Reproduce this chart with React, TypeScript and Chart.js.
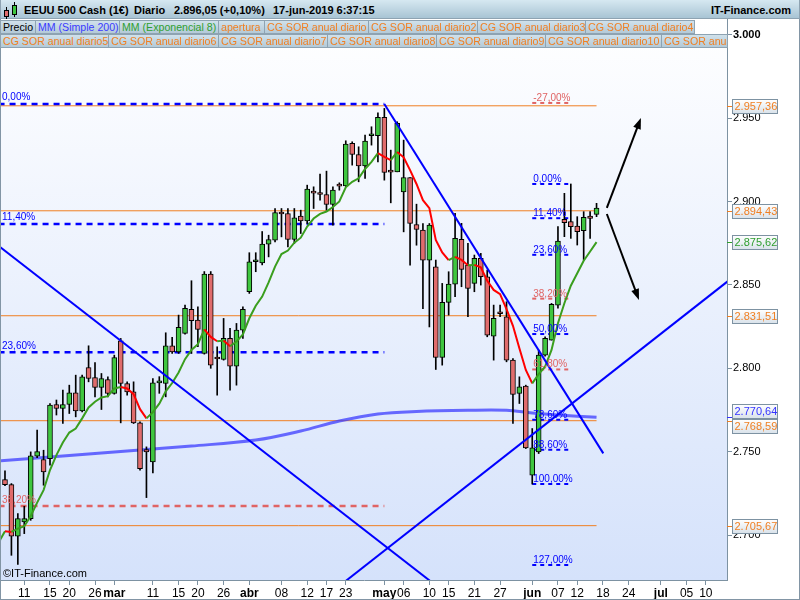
import React, { useEffect, useRef } from "react";
import { Chart, registerables } from "chart.js";

Chart.register(...registerables);
Chart.defaults.font.family = '"Liberation Sans", Arial, sans-serif';

// ---------------- data ----------------
// x axis: one slot per trading day, index 0 = 6-feb-2019 ... 92 = 17-jun-2019, then future slots
const tickIdx = [3, 7, 10, 14, 17, 23, 27, 30, 34, 38, 43, 47, 50, 53, 59, 62, 66, 69, 73, 77, 82, 86, 89, 93, 97, 102, 106, 109];
const tickLabels = ["11", "15", "20", "26", "mar", "11", "15", "20", "26", "abr", "08", "12", "17", "23", "may", "06", "10", "15", "21", "27", "jun", "07", "12", "18", "24", "jul", "05", "10"];
const monthNames = ["mar", "abr", "may", "jun", "jul"];

const yTicks = [2700, 2750, 2800, 2850, 2900, 2950, 3000];

const opens = [2733.3, 2730.3, 2699.3, 2707.9, 2709.9, 2747.3, 2745.3, 2745.9, 2778.3, 2775.9,
  2778.3, 2785.3, 2774.5, 2800.5, 2794.5, 2788.5, 2793.3, 2784.9, 2816.5, 2790.9,
  2785.9, 2767.3, 2751.3, 2743.9, 2791.3, 2790.9, 2813.5, 2809.9, 2820.9, 2835.3,
  2828.9, 2808.9, 2856.5, 2805.9, 2805.3, 2817.9, 2801.3, 2822.9, 2845.9, 2863.9,
  2863.2, 2874.4, 2876.8, 2892.8, 2892.8, 2877.2, 2891.2, 2888.4, 2905.2, 2905.4,
  2904.2, 2898.2, 2909.4, 2909.4, 2934.8, 2928.2, 2921.4, 2939.4, 2939.4, 2950.4,
  2917.8, 2917.8, 2905.8, 2914.4, 2886.2, 2882.9, 2864.9, 2860.9, 2806.5, 2839.5,
  2850.5, 2877.3, 2861.9, 2850.9, 2865.9, 2854.9, 2819.3, 2832.9, 2830.9, 2804.9,
  2784.9, 2789.3, 2735.9, 2749.9, 2807.9, 2816.9, 2837.9, 2889.3, 2887.9, 2885.3,
  2882.5, 2891.3, 2892.3];
const highs = [2738.5, 2730.9, 2712.9, 2717.3, 2749.9, 2762.9, 2750.9, 2778.9, 2781.0, 2787.0,
  2789.9, 2795.9, 2795.9, 2813.5, 2803.5, 2796.9, 2794.9, 2807.9, 2817.9, 2791.9,
  2791.9, 2767.9, 2752.9, 2793.9, 2795.0, 2821.3, 2818.5, 2831.9, 2837.9, 2852.5,
  2836.9, 2858.0, 2858.0, 2812.9, 2829.9, 2823.9, 2826.9, 2836.9, 2869.3, 2869.3,
  2882.0, 2879.8, 2895.8, 2895.8, 2895.8, 2895.8, 2894.8, 2909.8, 2908.8, 2916.4,
  2918.2, 2908.8, 2911.2, 2936.4, 2935.8, 2932.8, 2939.8, 2944.8, 2953.2, 2955.8,
  2930.8, 2947.8, 2936.8, 2914.4, 2898.4, 2886.8, 2886.8, 2864.9, 2850.9, 2857.9,
  2892.9, 2886.9, 2874.9, 2867.9, 2868.9, 2858.9, 2837.9, 2837.9, 2839.9, 2805.9,
  2794.9, 2789.9, 2763.9, 2810.9, 2818.9, 2838.9, 2884.9, 2904.9, 2910.5, 2890.9,
  2893.9, 2893.9, 2898.9];
const lows = [2729.7, 2687.9, 2682.5, 2700.9, 2708.9, 2746.5, 2729.9, 2742.0, 2772.0, 2767.0,
  2772.9, 2770.9, 2773.9, 2791.9, 2782.9, 2775.3, 2782.9, 2784.5, 2767.3, 2783.9,
  2766.9, 2738.9, 2722.5, 2737.3, 2785.0, 2782.9, 2808.9, 2808.9, 2820.5, 2808.9,
  2812.9, 2808.5, 2800.0, 2783.9, 2804.9, 2786.9, 2789.9, 2817.9, 2844.9, 2857.9,
  2862.0, 2866.8, 2875.8, 2878.8, 2872.8, 2874.8, 2880.8, 2886.8, 2895.8, 2900.8,
  2894.8, 2885.8, 2906.8, 2908.8, 2921.8, 2911.8, 2913.8, 2933.8, 2923.8, 2912.8,
  2899.2, 2917.8, 2881.8, 2861.8, 2873.8, 2835.8, 2824.8, 2799.3, 2801.9, 2831.9,
  2842.9, 2848.9, 2830.9, 2845.9, 2849.9, 2818.9, 2804.9, 2830.9, 2803.9, 2766.9,
  2778.9, 2751.9, 2730.6, 2748.9, 2807.3, 2816.9, 2836.0, 2878.9, 2877.9, 2873.9,
  2864.9, 2877.9, 2890.9];
const closes = [2730.3, 2699.3, 2709.9, 2709.9, 2747.5, 2750.1, 2737.9, 2777.9, 2775.9, 2778.3,
  2785.3, 2774.5, 2794.9, 2793.9, 2788.5, 2793.9, 2784.9, 2806.5, 2790.9, 2785.9,
  2767.3, 2739.9, 2749.9, 2791.3, 2791.6, 2813.5, 2809.9, 2824.5, 2835.9, 2828.5,
  2823.3, 2856.5, 2801.9, 2805.6, 2817.9, 2801.3, 2822.9, 2835.3, 2863.9, 2864.2,
  2874.4, 2877.2, 2893.4, 2892.5, 2877.2, 2890.2, 2888.4, 2907.4, 2905.0, 2904.2,
  2898.2, 2906.8, 2909.2, 2934.4, 2928.2, 2921.4, 2936.2, 2939.9, 2950.4, 2917.4,
  2917.6, 2946.8, 2914.4, 2886.8, 2883.2, 2864.9, 2885.9, 2806.5, 2839.5, 2850.5,
  2877.9, 2859.3, 2847.9, 2865.9, 2854.9, 2819.9, 2829.9, 2832.7, 2804.9, 2784.3,
  2788.9, 2752.3, 2752.3, 2807.9, 2817.9, 2838.3, 2876.3, 2887.3, 2884.9, 2881.9,
  2890.5, 2889.9, 2896.05];

// EMA 8, starting at index -1
const emaStart = -1;
const ema8 = [2695.5, 2702.3, 2701.9, 2703.9, 2705.3, 2711.5, 2719.5, 2727.0, 2739.0, 2748.0, 2755.5,
  2761.5, 2763.9, 2770.0, 2776.5, 2780.0, 2782.5, 2783.3, 2787.9, 2788.8, 2787.9,
  2784.5, 2775.5, 2770.0, 2773.7, 2778.8, 2786.2, 2791.2, 2797.5, 2805.5, 2811.0,
  2814.5, 2823.4, 2818.8, 2816.2, 2816.6, 2813.2, 2816.0, 2820.3, 2830.0, 2837.5,
  2843.0, 2851.5, 2861.0, 2868.5, 2870.6, 2875.3, 2878.3, 2885.0, 2889.8, 2892.6,
  2894.0, 2896.7, 2900.0, 2908.5, 2911.8, 2913.9, 2919.5, 2923.8, 2929.0, 2926.8,
  2924.8, 2929.7, 2926.5, 2918.8, 2910.5, 2900.8, 2896.0, 2877.0, 2869.5, 2864.8,
  2866.8, 2865.0, 2861.8, 2862.0, 2860.5, 2852.5, 2847.0, 2844.5, 2835.5, 2825.5,
  2812.0, 2799.0, 2791.0, 2796.5, 2801.0, 2811.0, 2827.0, 2839.0, 2849.5, 2857.0,
  2864.5, 2870.0, 2875.62];

// SMA 200 read at a few points
const smaIdx = [-1, 9, 19, 29, 39, 46, 52, 58, 64, 72, 78, 82, 86, 92];
const smaVal = [2744.5, 2747.4, 2750.4, 2753.4, 2757.0, 2762.4, 2768.4, 2772.6, 2774.1, 2774.8, 2774.8, 2773.2, 2772.0, 2770.64];

// support / resistance lines ("CG SOR anual diario")
const orangeLevels = [2957.36, 2894.43, 2831.51, 2768.59, 2705.67];
const orangeEnd = 92;

// trend lines [x1, y1, x2, y2] in (slot, price)
const trendLines = [
  [-2, 2876.4, 67, 2669.9],
  [59, 2958.4, 93.05, 2749.0],
  [52, 2669.5, 114, 2857.0],
];

// fibonacci retracements
const leftFibTop = 2958.5;
const leftFibBase = 2327.5;
const leftFibPct = [0, 11.4, 23.6, 38.2];
const leftFibRange = [-1, 59];
const rightFibTop = 2910.5;
const rightFibBase = 2730.6;
const rightFibPct = [-27, 0, 11.4, 23.6, 38.2, 50, 61.8, 78.6, 88.6, 100, 127];
const rightFibRange = [82, 87.6];
const fibRedPct = [38.2, 61.8, -27];

// projection arrows [x1, y1, x2, y2]
const arrows = [
  [93.6, 2896.2, 98.9, 2950.1],
  [93.6, 2892.5, 98.6, 2841.0],
];

// price markers on the right axis
const markerVals = [2957.36, 2894.43, 2875.62, 2831.51, 2770.64, 2768.59, 2705.67];
const markerKinds = ["sor", "sor", "ema", "sor", "sma", "sor", "sor"];

// ---------------- styles ----------------
const ORANGE = "#f07f22";
const BLUE = "#0000ff";
const PINK = "#e06464";
const GREEN_LINE = "#3a9e1e";
const kindColor: Record<string, string> = { sor: ORANGE, ema: "#2e9e2e", sma: "#3434ff" };

const X_MIN = -0.62;
const X_MAX = 112.29;
const Y_MIN = 2673.1;
const Y_MAX = 3010.6;

function fmt(v: number, dec: number): string {
  const s = v.toFixed(dec);
  const parts = s.split(".");
  const ip = parts[0].replace(/\B(?=(\d{3})+(?!\d))/g, ".");
  return parts[1] ? ip + "," + parts[1] : ip;
}
function pctLabel(p: number): string {
  return p.toFixed(2).replace(".", ",") + "%";
}
function fibVal(top: number, base: number, p: number) {
  return top - (p / 100) * (top - base);
}

const bgPlugin = {
  id: "bgPlugin",
  beforeDraw(chart: any) {
    const { ctx, chartArea: a, width, height } = chart;
    ctx.save();
    ctx.fillStyle = "#ffffff";
    ctx.fillRect(0, 0, width, height);
    const g = ctx.createLinearGradient(0, a.top, 0, a.bottom);
    g.addColorStop(0, "#ffffff");
    g.addColorStop(1, "#d5e2fb");
    ctx.fillStyle = g;
    ctx.fillRect(a.left, a.top, a.right - a.left, a.bottom - a.top);
    ctx.restore();
  },
};

function drawArrow(ctx: CanvasRenderingContext2D, x1: number, y1: number, x2: number, y2: number) {
  const ang = Math.atan2(y2 - y1, x2 - x1);
  const len = 11, w = 4;
  ctx.beginPath();
  ctx.moveTo(x1, y1);
  ctx.lineTo(x2 - 6 * Math.cos(ang), y2 - 6 * Math.sin(ang));
  ctx.stroke();
  ctx.beginPath();
  ctx.moveTo(x2, y2);
  ctx.lineTo(x2 - len * Math.cos(ang) + w * Math.sin(ang), y2 - len * Math.sin(ang) - w * Math.cos(ang));
  ctx.lineTo(x2 - len * Math.cos(ang) - w * Math.sin(ang), y2 - len * Math.sin(ang) + w * Math.cos(ang));
  ctx.closePath();
  ctx.fill();
}

const overlayPlugin = {
  id: "overlayPlugin",
  afterDatasetsDraw(chart: any) {
    const { ctx, chartArea: a } = chart;
    const xs = chart.scales.x, ys = chart.scales.y;
    ctx.save();
    ctx.beginPath();
    ctx.rect(a.left, a.top, a.right - a.left, a.bottom - a.top);
    ctx.clip();
    ctx.font = '10px "Liberation Sans", Arial, sans-serif';
    ctx.textBaseline = "alphabetic";
    ctx.textAlign = "left";
    leftFibPct.forEach((p) => {
      const y = ys.getPixelForValue(fibVal(leftFibTop, leftFibBase, p));
      ctx.fillStyle = fibRedPct.includes(p) ? PINK : BLUE;
      ctx.fillText(pctLabel(p), a.left + 1, y - 3.5);
    });
    const rx = xs.getPixelForValue(rightFibRange[0]) + 1;
    rightFibPct.forEach((p) => {
      const y = ys.getPixelForValue(fibVal(rightFibTop, rightFibBase, p));
      ctx.fillStyle = fibRedPct.includes(p) ? PINK : BLUE;
      ctx.fillText(pctLabel(p), rx, y - 2);
    });
    // arrows
    ctx.strokeStyle = "#000";
    ctx.fillStyle = "#000";
    ctx.lineWidth = 2;
    arrows.forEach((ar) => {
      drawArrow(ctx, xs.getPixelForValue(ar[0]), ys.getPixelForValue(ar[1]), xs.getPixelForValue(ar[2]), ys.getPixelForValue(ar[3]));
    });
    // copyright
    ctx.font = '11px "Liberation Sans", Arial, sans-serif';
    ctx.fillStyle = "#000";
    ctx.fillText("\u00a9IT-Finance.com", a.left + 2, a.bottom - 3);
    ctx.restore();
  },
  afterDraw(chart: any) {
    const { ctx, chartArea: a, width, height } = chart;
    const ys = chart.scales.y;
    ctx.save();
    const items = markerVals.map((v, k) => {
      const y = ys.getPixelForValue(v);
      return { v, c: kindColor[markerKinds[k]], y, by: y };
    });
    items.sort((p, q) => p.y - q.y);
    const H = 15;
    for (let pass = 0; pass < 6; pass++) {
      for (let k = 1; k < items.length; k++) {
        const d = items[k].by - items[k - 1].by;
        if (d < H) {
          const s = (H - d) / 2;
          items[k - 1].by -= s;
          items[k].by += s;
        }
      }
    }
    ctx.font = '11px "Liberation Sans", Arial, sans-serif';
    ctx.textBaseline = "middle";
    ctx.textAlign = "left";
    items.forEach((it) => {
      ctx.strokeStyle = it.c;
      ctx.lineWidth = 1;
      ctx.beginPath();
      ctx.moveTo(a.right, Math.round(it.y) + 0.5);
      ctx.lineTo(a.right + 5, Math.round(it.y) + 0.5);
      ctx.stroke();
      const bx = a.right + 5.5, bw = 45, bh = 14;
      const top = Math.round(it.by - bh / 2) + 0.5;
      const g = ctx.createLinearGradient(0, top, 0, top + bh);
      g.addColorStop(0, "#ffffff");
      g.addColorStop(1, "#d9e2ea");
      ctx.fillStyle = g;
      ctx.fillRect(bx, top, bw, bh);
      ctx.strokeStyle = "#7d92a2";
      ctx.strokeRect(bx, top, bw, bh);
      ctx.fillStyle = it.c;
      ctx.fillText(fmt(it.v, 2), bx + 2, top + bh / 2 + 0.5);
    });
    // frame
    ctx.strokeStyle = "#8295a5";
    ctx.lineWidth = 1;
    ctx.strokeRect(0.5, 0.5, width - 1, height - 1);
    ctx.restore();
  },
};

function buildConfig(): any {
  const candleIdx = closes.map((_, i) => i);
  const datasets: any[] = [];

  orangeLevels.forEach((lvl) => {
    datasets.push({
      type: "line",
      data: [{ x: -1, y: lvl }, { x: orangeEnd, y: lvl }],
      borderColor: ORANGE,
      borderWidth: 1,
      pointRadius: 0,
      order: 8,
    });
  });

  leftFibPct.forEach((p) => {
    const v = fibVal(leftFibTop, leftFibBase, p);
    datasets.push({
      type: "line",
      data: [{ x: leftFibRange[0], y: v }, { x: leftFibRange[1], y: v }],
      borderColor: fibRedPct.includes(p) ? PINK : BLUE,
      borderWidth: 2.5,
      borderDash: [6, 5],
      pointRadius: 0,
      order: 7,
    });
  });
  rightFibPct.forEach((p) => {
    const v = fibVal(rightFibTop, rightFibBase, p);
    datasets.push({
      type: "line",
      data: [{ x: rightFibRange[0], y: v }, { x: rightFibRange[1], y: v }],
      borderColor: fibRedPct.includes(p) ? PINK : BLUE,
      borderWidth: 2,
      borderDash: [4, 4],
      pointRadius: 0,
      order: 7,
    });
  });

  datasets.push({
    type: "line",
    data: smaIdx.map((x, k) => ({ x, y: smaVal[k] })),
    borderColor: "rgba(52,52,255,0.72)",
    borderWidth: 3,
    pointRadius: 0,
    tension: 0.35,
    order: 6,
  });

  datasets.push({
    type: "bar",
    data: candleIdx.map((i) => ({ x: i, y: [lows[i], highs[i]] })),
    backgroundColor: "#000",
    borderWidth: 0,
    barThickness: 1,
    grouped: false,
    order: 5,
  });
  datasets.push({
    type: "bar",
    data: candleIdx.map((i) => ({ x: i, y: [opens[i], closes[i]] })),
    backgroundColor: candleIdx.map((i) => (closes[i] >= opens[i] ? "#3fc63f" : "#e06c6c")),
    borderColor: "#000",
    borderWidth: 1,
    borderSkipped: false,
    barThickness: 5,
    minBarLength: 2,
    grouped: false,
    order: 4,
  });

  datasets.push({
    type: "line",
    data: ema8.map((v, k) => ({ x: emaStart + k, y: v })),
    borderColor: GREEN_LINE,
    borderWidth: 2,
    pointRadius: 0,
    segment: {
      borderColor: (c: any) => (c.p1.parsed.y < c.p0.parsed.y ? "#ff0000" : GREEN_LINE),
    },
    order: 3,
  });

  trendLines.forEach((t) => {
    datasets.push({
      type: "line",
      data: [{ x: t[0], y: t[1] }, { x: t[2], y: t[3] }],
      borderColor: BLUE,
      borderWidth: 2,
      pointRadius: 0,
      order: 1,
    });
  });

  return {
    type: "bar",
    data: { datasets },
    options: {
      animation: false,
      responsive: false,
      devicePixelRatio: 1,
      events: [],
      layout: { padding: { top: 17, left: 1, right: 0, bottom: 0 } },
      plugins: { legend: { display: false }, tooltip: { enabled: false }, title: { display: false } },
      scales: {
        x: {
          type: "linear",
          min: X_MIN,
          max: X_MAX,
          offset: false,
          afterBuildTicks: (s: any) => {
            s.ticks = tickIdx.map((v) => ({ value: v }));
          },
          afterFit: (s: any) => {
            s.height = 20;
          },
          ticks: {
            autoSkip: false,
            maxRotation: 0,
            minRotation: 0,
            padding: 1,
            color: "#000",
            callback: (_v: any, i: number) => tickLabels[i] ?? "",
            font: (c: any) => ({ size: 12, weight: monthNames.includes(tickLabels[c.index]) ? "bold" : "normal" }),
          },
          grid: { drawOnChartArea: false, drawTicks: true, tickLength: 5, color: "#7d92a2", offset: false },
          border: { display: true, color: "#7d92a2" },
        },
        y: {
          type: "linear",
          position: "right",
          min: Y_MIN,
          max: Y_MAX,
          afterBuildTicks: (s: any) => {
            s.ticks = yTicks.map((v) => ({ value: v }));
          },
          afterFit: (s: any) => {
            s.width = 73;
          },
          ticks: {
            padding: 1,
            color: "#000",
            callback: (v: any) => fmt(Number(v), 0),
            font: (c: any) => ({ size: 11, weight: c.tick && c.tick.value === 3000 ? "bold" : "normal" }),
          },
          grid: { drawOnChartArea: false, drawTicks: true, tickLength: 5, color: "#7d92a2" },
          border: { display: true, color: "#7d92a2" },
        },
      },
    },
    plugins: [bgPlugin, overlayPlugin],
  };
}

const legendRow1: [string, string, number, number][] = [
  ["Precio", "#000000", 0, 36],
  ["MM (Simple 200)", "#3a3aff", 35, 85],
  ["MM (Exponencial 8)", "#2f9f2f", 119, 100],
  ["apertura", ORANGE, 218, 47],
  ["CG SOR anual diario", ORANGE, 264, 105],
  ["CG SOR anual diario2", ORANGE, 368, 110],
  ["CG SOR anual diario3", ORANGE, 477, 109],
  ["CG SOR anual diario4", ORANGE, 585, 110],
];
const legendRow2: [string, string, number, number][] = [
  ["CG SOR anual diario5", ORANGE, 0, 109],
  ["CG SOR anual diario6", ORANGE, 108, 111],
  ["CG SOR anual diario7", ORANGE, 218, 110],
  ["CG SOR anual diario8", ORANGE, 327, 110],
  ["CG SOR anual diario9", ORANGE, 436, 110],
  ["CG SOR anual diario10", ORANGE, 545, 117],
  ["CG SOR anual diario11", ORANGE, 661, 67],
];

const FONT = '"Liberation Sans", Arial, sans-serif';

function LegendBox({ item, top }: { item: [string, string, number, number]; top: number }) {
  const [text, color, left, width] = item;
  return (
    <div
      style={{
        position: "absolute",
        left,
        top,
        width,
        height: 14,
        boxSizing: "border-box",
        border: "1px solid #8ea3b2",
        background: "linear-gradient(#d0e1eb, #b4cad8)",
        color,
        fontFamily: FONT,
        fontSize: 10.6,
        lineHeight: "12px",
        paddingLeft: 2,
        whiteSpace: "nowrap",
        overflow: "hidden",
      }}
    >
      {text}
    </div>
  );
}

export default function App() {
  const ref = useRef<HTMLCanvasElement | null>(null);
  useEffect(() => {
    if (!ref.current) return;
    const chart = new Chart(ref.current, buildConfig());
    return () => chart.destroy();
  }, []);
  const hdr: React.CSSProperties = {
    position: "absolute",
    top: 4,
    fontFamily: FONT,
    fontSize: 11,
    fontWeight: "bold",
    lineHeight: "13px",
    color: "#000",
    whiteSpace: "nowrap",
  };
  return (
    <div style={{ position: "fixed", left: 0, top: 0, width: 800, height: 600, overflow: "hidden", background: "#fff" }}>
      <canvas ref={ref} width={800} height={600} style={{ position: "absolute", left: 0, top: 0, width: 800, height: 600 }} />
      <div
        style={{
          position: "absolute",
          left: 0,
          top: 0,
          width: 800,
          height: 19,
          boxSizing: "border-box",
          borderBottom: "1px solid #8ea3b2",
          borderLeft: "1px solid #8ea3b2",
          borderRight: "1px solid #8ea3b2",
          background: "linear-gradient(#d6e8f1, #a8c4d4)",
        }}
      >
        <div style={{ position: "absolute", left: 5, top: 7, width: 1, height: 12, background: "#000" }} />
        <div style={{ position: "absolute", left: 3, top: 10, width: 5, height: 7, background: "#e06c6c", border: "1px solid #000", boxSizing: "border-box" }} />
        <div style={{ position: "absolute", left: 13, top: 2, width: 1, height: 15, background: "#000" }} />
        <div style={{ position: "absolute", left: 11, top: 5, width: 5, height: 10, background: "#3fc63f", border: "1px solid #000", boxSizing: "border-box" }} />
        <span style={{ ...hdr, left: 23 }}>EEUU 500 Cash (1€)</span>
        <span style={{ ...hdr, left: 133 }}>Diario</span>
        <span style={{ ...hdr, left: 173 }}>2.896,05 (+0,10%)</span>
        <span style={{ ...hdr, left: 272 }}>17-jun-2019 6:37:15</span>
        <span style={{ ...hdr, right: 8 }}>IT-Finance.com</span>
      </div>
      {legendRow1.map((it, k) => (
        <LegendBox key={"a" + k} item={it} top={20} />
      ))}
      {legendRow2.map((it, k) => (
        <LegendBox key={"b" + k} item={it} top={34} />
      ))}
    </div>
  );
}
